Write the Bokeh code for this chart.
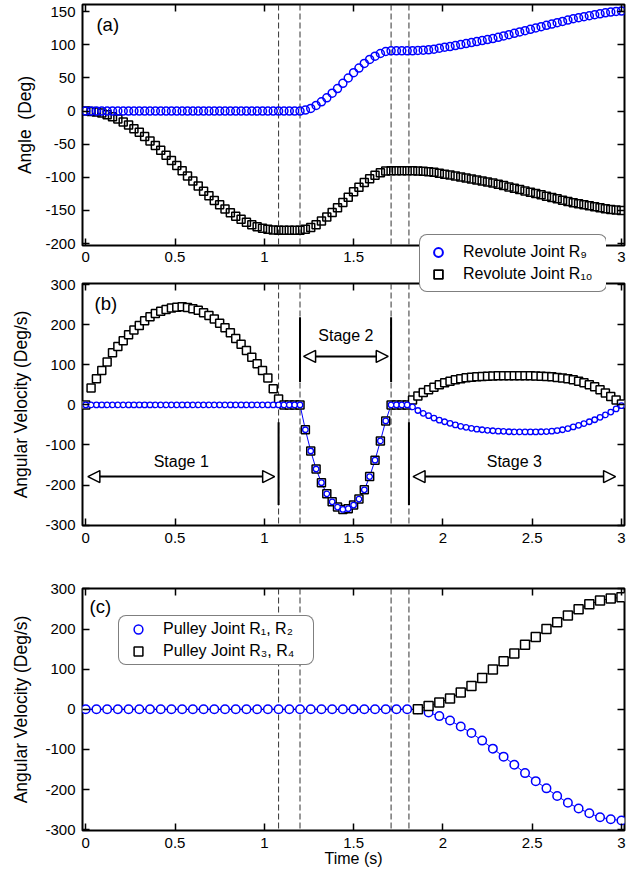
from bokeh.plotting import figure
from bokeh.layouts import column
from bokeh.models import (Range1d, LinearAxis, FixedTicker, Span, Arrow, NormalHead,
                          Label, Legend, LegendItem, ColumnDataSource)
from bokeh.embed import file_html
from bokeh.resources import INLINE

FONT = "Liberation Sans"
BLUE = "#0000ff"

# ---------------- data ----------------
x_ticks = [0, 0.5, 1, 1.5, 2, 2.5, 3]
x_tick_labels = ["0", "0.5", "1", "1.5", "2", "2.5", "3"]
y_ticks_a = [-200, -150, -100, -50, 0, 50, 100, 150]
y_tick_labels_a = ["-200", "-150", "-100", "-50", "0", "50", "100", "150"]
y_ticks_bc = [-300, -200, -100, 0, 100, 200, 300]
y_tick_labels_bc = ["-300", "-200", "-100", "0", "100", "200", "300"]
stage_bounds = [1.08, 1.2, 1.71, 1.81]

time_ab = [0.00, 0.03, 0.06, 0.09, 0.12, 0.15, 0.18, 0.21, 0.24, 0.27,
           0.30, 0.33, 0.36, 0.39, 0.42, 0.45, 0.48, 0.51, 0.54, 0.57,
           0.60, 0.63, 0.66, 0.69, 0.72, 0.75, 0.78, 0.81, 0.84, 0.87,
           0.90, 0.93, 0.96, 0.99, 1.02, 1.05, 1.08, 1.11, 1.14, 1.17,
           1.20, 1.23, 1.26, 1.29, 1.32, 1.35, 1.38, 1.41, 1.44, 1.47,
           1.50, 1.53, 1.56, 1.59, 1.62, 1.65, 1.68, 1.71, 1.74, 1.77,
           1.80, 1.83, 1.86, 1.89, 1.92, 1.95, 1.98, 2.01, 2.04, 2.07,
           2.10, 2.13, 2.16, 2.19, 2.22, 2.25, 2.28, 2.31, 2.34, 2.37,
           2.40, 2.43, 2.46, 2.49, 2.52, 2.55, 2.58, 2.61, 2.64, 2.67,
           2.70, 2.73, 2.76, 2.79, 2.82, 2.85, 2.88, 2.91, 2.94, 2.97,
           3.00]

angle_r9 = [0, 0, 0, 0, 0, 0, 0, 0, 0, 0,
            0, 0, 0, 0, 0, 0, 0, 0, 0, 0,
            0, 0, 0, 0, 0, 0, 0, 0, 0, 0,
            0, 0, 0, 0, 0, 0, 0, 0, 0, 0,
            0, 1.5, 4, 8.5, 14, 20, 27, 34, 42, 50,
            58, 65, 72, 78, 83, 87, 90, 91, 91, 91,
            91, 91, 91.5, 92, 92.5, 93.5, 95, 96.5, 97.5, 99,
            100.5, 102, 103.5, 105, 106.5, 108, 109.5, 111.5, 113.5, 115.5,
            117.5, 119.5, 121.5, 123.5, 125.5, 127.5, 129.5, 131.5, 133.5, 135.5,
            137.5, 139.5, 141, 142.5, 144, 145.5, 147, 148.5, 149.5, 150.5,
            151]

angle_r10 = [0, -0.5, -1.5, -3, -5.5, -8.5, -12, -16.5, -21, -26.5,
             -32, -38.5, -45, -52, -59, -66.5, -74.5, -82, -90, -98,
             -105.5, -113, -121, -128, -135, -141.5, -148, -153.5, -159, -163.5,
             -168, -171.5, -174.5, -177, -178.5, -179.5, -180, -180, -180, -180,
             -180, -178.5, -176, -171.5, -166, -160, -153, -146, -138, -130,
             -122, -115, -108, -102, -97, -93, -90.5, -90, -90, -90,
             -90, -90, -90.5, -91, -91.5, -92.5, -94, -95.5, -96.5, -98,
             -99.5, -101, -102.5, -104, -105.5, -107, -108.5, -110.5, -112.5, -114.5,
             -116.5, -118.5, -120.5, -122.5, -124.5, -126.5, -128.5, -130.5, -132.5, -134.5,
             -136.5, -138.5, -140, -141.5, -143, -144.5, -146, -147.5, -148.5, -149.5,
             -150]

vel_r9 = [0, 0, 0, 0, 0, 0, 0, 0, 0, 0,
          0, 0, 0, 0, 0, 0, 0, 0, 0, 0,
          0, 0, 0, 0, 0, 0, 0, 0, 0, 0,
          0, 0, 0, 0, 0, 0, 0, 0, 0, 0,
          0, -62, -115, -160, -194, -222, -242, -255, -261, -259,
          -250, -235, -212, -179, -138, -90, -40, 0, 0, 0,
          0, -5, -14, -21, -27, -33, -38, -42, -46, -50,
          -53.5, -56, -58.5, -60.5, -62, -63.5, -64.5, -65.5, -66, -67,
          -67.5, -67.5, -67.5, -67.5, -67.5, -67, -66.5, -65.5, -64, -62,
          -59, -55, -51, -46.5, -42, -37, -31, -25, -18, -10,
          -2]

vel_r10 = [0, 42, 65, 86, 107, 130, 146, 160, 175, 187,
           198, 210, 220, 228, 233.5, 238, 242, 244, 245, 243,
           240, 236, 230, 223, 214.5, 204, 192.5, 180, 166, 151.5,
           136, 119, 103, 86, 67, 40, 15, 0, 0, 0,
           0, -62, -115, -160, -194, -222, -242, -255, -261, -259,
           -250, -235, -212, -179, -138, -90, -40, 0, 0, 0,
           0, 12, 22, 31, 38, 44, 50, 55, 59, 62.5,
           65, 67.5, 69, 70, 71, 71.5, 72, 72.5, 72.5, 72.5,
           72.5, 72.5, 72.5, 72.5, 72, 71.5, 71, 70, 68.5, 67,
           65, 62.5, 59, 55, 50, 45, 38, 30, 21, 12,
           2]

time_c = [0.00, 0.06, 0.12, 0.18, 0.24, 0.30, 0.36, 0.42, 0.48, 0.54,
          0.60, 0.66, 0.72, 0.78, 0.84, 0.90, 0.96, 1.02, 1.08, 1.14,
          1.20, 1.26, 1.32, 1.38, 1.44, 1.50, 1.56, 1.62, 1.68, 1.74,
          1.80, 1.86, 1.92, 1.98, 2.04, 2.10, 2.16, 2.22, 2.28, 2.34,
          2.40, 2.46, 2.52, 2.58, 2.64, 2.70, 2.76, 2.82, 2.88, 2.94,
          3.00]

vel_r12 = [0, 0, 0, 0, 0, 0, 0, 0, 0, 0,
           0, 0, 0, 0, 0, 0, 0, 0, 0, 0,
           0, 0, 0, 0, 0, 0, 0, 0, 0, 0,
           0, 0, -8, -17, -28, -43, -59, -78, -98, -118,
           -138, -159, -179, -197, -216, -233, -247, -259, -269, -274,
           -277]

vel_r34 = [0, 0, 0, 0, 0, 0, 0, 0, 0, 0,
           0, 0, 0, 0, 0, 0, 0, 0, 0, 0,
           0, 0, 0, 0, 0, 0, 0, 0, 0, 0,
           0, 0, 8, 17, 27, 42, 58, 78, 99, 120,
           139, 161, 180, 200, 217, 234, 249, 262, 271, 276,
           279]

# ---------------- helpers ----------------
def base_fig(height, b_top, b_bottom, y_rng, y_ticks, y_labels, ylabel,
             y_lab_standoff, x_label_standoff, xlabel=None):
    p = figure(width=625, height=height,
               x_range=Range1d(-0.018, 3.017), y_range=Range1d(*y_rng),
               output_backend="svg", toolbar_location=None,
               min_border_left=72, min_border_right=9,
               min_border_top=b_top, min_border_bottom=b_bottom)
    p.grid.visible = False
    p.outline_line_color = "black"
    p.outline_line_width = 2
    p.background_fill_color = "white"
    xa = p.xaxis[0]
    ya = p.yaxis[0]
    xa.ticker = FixedTicker(ticks=x_ticks)
    xa.major_label_overrides = dict(zip(x_ticks, x_tick_labels))
    ya.ticker = FixedTicker(ticks=y_ticks)
    ya.major_label_overrides = dict(zip(y_ticks, y_labels))
    for ax in (xa, ya):
        ax.axis_line_color = None
        ax.major_tick_in = 7
        ax.major_tick_out = 0
        ax.major_tick_line_width = 1.5
        ax.major_tick_line_color = "black"
        ax.minor_tick_line_color = None
        ax.major_label_text_font = FONT
        ax.major_label_text_font_size = "15px"
        ax.major_label_text_color = "black"
        ax.axis_label_text_font = FONT
        ax.axis_label_text_font_style = "normal"
        ax.axis_label_text_color = "black"
    ya.major_label_standoff = 7
    ya.axis_label = ylabel
    ya.axis_label_text_font_size = "17.5px"
    ya.axis_label_standoff = y_lab_standoff
    xa.major_label_standoff = x_label_standoff
    if xlabel:
        xa.axis_label = xlabel
        xa.axis_label_text_font_size = "16px"
        xa.axis_label_standoff = -1
    top = LinearAxis(ticker=FixedTicker(ticks=x_ticks), major_label_text_font_size="0px",
                     major_label_text_color=None, major_label_standoff=0,
                     major_tick_in=7, major_tick_out=0, major_tick_line_width=1.5,
                     axis_line_color=None, minor_tick_line_color=None)
    p.add_layout(top, "above")
    right = LinearAxis(ticker=FixedTicker(ticks=y_ticks), major_label_text_font_size="0px",
                       major_label_text_color=None, major_label_standoff=0,
                       major_tick_in=7, major_tick_out=0, major_tick_line_width=1.5,
                       axis_line_color=None, minor_tick_line_color=None)
    p.add_layout(right, "right")
    for s in stage_bounds:
        p.add_layout(Span(location=s, dimension="height", line_color="#333333",
                          line_width=1, line_dash="6 3", level="underlay"))
    return p


def panel_label(p, text, x, y):
    p.add_layout(Label(x=x, y=y, text=text, text_font=FONT, text_font_size="18.5px",
                       text_baseline="middle", text_align="left", text_color="black"))


leg_extra = {}
if "border_radius" in Legend.properties():
    leg_extra["border_radius"] = 8

src_ab = ColumnDataSource(dict(t=time_ab, a9=angle_r9, a10=angle_r10, v9=vel_r9, v10=vel_r10))

# ---------------- panel (a) ----------------
fig_a = base_fig(271, 2, 28, (-203, 161), y_ticks_a, y_tick_labels_a,
                 "Angle\u00a0 (Deg)", 7, 6)
fig_a.scatter("t", "a10", source=src_ab, marker="square", size=8, line_color="black",
              line_width=1.5, fill_color=None)
fig_a.scatter("t", "a9", source=src_ab, marker="circle", size=8, line_color=BLUE,
              line_width=1.5, fill_color=None)
panel_label(fig_a, "(a)", 0.06, 131)

# ---------------- panel (b) ----------------
fig_b = base_fig(274, 10, 22, (-301, 303), y_ticks_bc, y_tick_labels_bc,
                 "Angular Velocity (Deg/s)", 11, 7)
fig_b.line("t", "v9", source=src_ab, line_color=BLUE, line_width=1)
fig_b.scatter("t", "v10", source=src_ab, marker="square", size=8, line_color="black",
              line_width=1.5, fill_color="white")
fig_b.scatter("t", "v9", source=src_ab, marker="circle", size=5.5, line_color=BLUE,
              line_width=1.3, fill_color="white")
panel_label(fig_b, "(b)", 0.049, 254)

b1, b2, b3, b4 = stage_bounds
for xs, y0, y1 in [(b1, -43, -250), (b2, 219, 57), (b3, 219, 57), (b4, -43, -250)]:
    fig_b.add_layout(Arrow(x_start=xs, y_start=y0, x_end=xs, y_end=y1, start=None, end=None,
                           line_color="black", line_width=2))


def head():
    return NormalHead(size=12, fill_color="white", line_color="black", line_width=1.5)


for xs, xe, ya_, txt, ty in [(0.012, b1 - 0.022, -179, "Stage 1", -142),
                             (b2 + 0.02, b3 - 0.016, 121, "Stage 2", 173.5),
                             (b4 + 0.023, 2.967, -179, "Stage 3", -142)]:
    fig_b.add_layout(Arrow(x_start=xs, y_start=ya_, x_end=xe, y_end=ya_,
                           start=head(), end=head(), line_color="black", line_width=2))
    fig_b.add_layout(Label(x=(xs + xe) / 2, y=ty, text=txt, text_font=FONT,
                           text_font_size="16px", text_align="center",
                           text_baseline="middle", text_color="black"))

# ---------------- legend overlay for (a)/(b) ----------------
fig_leg = figure(width=272, height=60, x_range=Range1d(100, 101), y_range=Range1d(1000, 1001),
                 x_axis_type=None, y_axis_type=None, output_backend="svg",
                 toolbar_location=None, title=None,
                 min_border_left=72, min_border_right=9, min_border_top=0, min_border_bottom=0,
                 margin=(-313, 0, 253, 335))
fig_leg.outline_line_color = None
fig_leg.background_fill_color = None
fig_leg.border_fill_color = None
fig_leg.grid.visible = False
lg9 = fig_leg.scatter("t", "v9", source=src_ab, marker="circle", size=10, line_color=BLUE,
                      line_width=2, fill_color="white")
lg10 = fig_leg.scatter("t", "v10", source=src_ab, marker="square", size=10, line_color="black",
                       line_width=1.8, fill_color="white")
leg_b = Legend(items=[LegendItem(label="Revolute Joint R\u2089", renderers=[lg9]),
                      LegendItem(label="Revolute Joint R\u2081\u2080", renderers=[lg10])],
               location=(2, 2), orientation="vertical",
               glyph_width=24, glyph_height=22, spacing=0, padding=6,
               label_standoff=13, label_width=137, label_height=22,
               label_text_font=FONT, label_text_font_size="16px", label_text_color="black",
               border_line_color="black", border_line_width=1.5,
               background_fill_color="white", background_fill_alpha=1.0, margin=0,
               **leg_extra)
fig_leg.add_layout(leg_b)

# ---------------- panel (c) ----------------
fig_c = base_fig(324, 41, 41, (-302, 301), y_ticks_bc, y_tick_labels_bc,
                 "Angular Velocity (Deg/s)", 11, 7, xlabel="Time (s)")
src_c = ColumnDataSource(dict(t=time_c, v12=vel_r12, v34=vel_r34))
sq_start = next(i for i, v in enumerate(vel_r34) if v != 0) - 1
src_c_sq = ColumnDataSource(dict(t=time_c[sq_start:], v34=vel_r34[sq_start:]))
fig_c.line("t", "v12", source=src_c, line_color=BLUE, line_width=1)
fig_c.line("t", "v34", source=src_c, line_color="black", line_width=1)
r12_c = fig_c.scatter("t", "v12", source=src_c, marker="circle", size=8.5, line_color=BLUE,
                      line_width=1.5, fill_color="white")
r34_c = fig_c.scatter("t", "v34", source=src_c_sq, marker="square", size=9, line_color="black",
                      line_width=1.5, fill_color="white")
panel_label(fig_c, "(c)", 0.021, 257)

leg_c = Legend(items=[LegendItem(label="Pulley Joint R\u2081, R\u2082", renderers=[r12_c]),
                      LegendItem(label="Pulley Joint R\u2083, R\u2084", renderers=[r34_c])],
               location=(36, 165), orientation="vertical",
               glyph_width=34, glyph_height=22, spacing=0, padding=2,
               label_standoff=8, label_width=148, label_height=22,
               label_text_font=FONT, label_text_font_size="16px", label_text_color="black",
               border_line_color="black", border_line_width=1.5,
               background_fill_color="white", background_fill_alpha=1.0, margin=0,
               **leg_extra)
fig_c.add_layout(leg_c)

layout = column(fig_a, fig_b, fig_leg, fig_c, margin=(2, 0, 0, 8))

open("out.html", "w").write(file_html(layout, INLINE))
